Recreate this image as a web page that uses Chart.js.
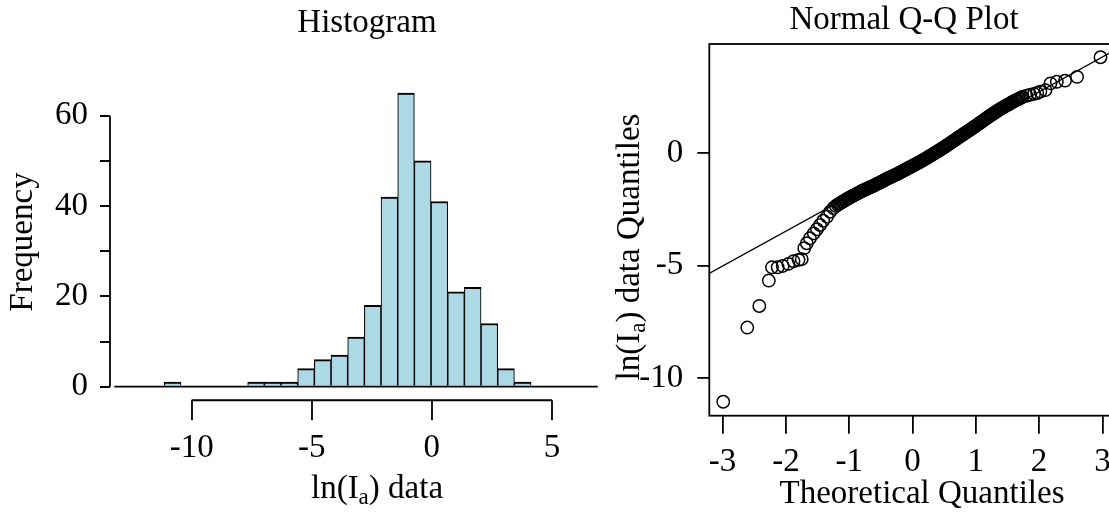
<!DOCTYPE html>
<html>
<head>
<meta charset="utf-8">
<script src="https://cdn.jsdelivr.net/npm/chart.js@4.4.1/dist/chart.umd.min.js"></script>
<style>
  html, body { margin: 0; padding: 0; background: #fff; overflow: hidden; }
  #wrap { position: relative; width: 1109px; height: 519px; overflow: hidden; }
  canvas { position: absolute; top: 0; }
  #hist { left: 0; }
  #qq { left: 580px; }
</style>
</head>
<body>
<div id="wrap">
  <canvas id="hist" width="610" height="519"></canvas>
  <canvas id="qq" width="560" height="519"></canvas>
</div>
<script>
// histogramme de ln(Ia)
const binStart = -13.22;
const binWidth = 0.694;
const binCounts = [0, 0, 0, 1, 0, 0, 0, 0, 1, 1,
                   1, 4, 6, 7, 11, 18, 42, 65, 50, 41,
                   21, 22, 14, 4, 1, 0, 0, 0, 0];
const histXTicks = [-10, -5, 0, 5];
const histYTicks = [0, 10, 20, 30, 40, 50, 60];
const histYLabels = [0, 20, 40, 60];

// Q-Q normal : queue basse, bande dense, queue haute
const qqTheory = [
  -2.99, -2.61, -2.42, -2.27, -2.22, -2.13, -2.05, -1.96, -1.88, -1.80,
  -1.75, -1.71, -1.67, -1.62, -1.56, -1.51, -1.46, -1.41, -1.35, -1.30,
  -1.25, -1.21,
  -1.18, -1.16, -1.14, -1.12, -1.10, -1.08, -1.06, -1.04, -1.02, -1.00,
  -0.98, -0.96, -0.94, -0.92, -0.90, -0.88, -0.86, -0.84, -0.82, -0.80,
  -0.78, -0.76, -0.74, -0.72, -0.70, -0.68, -0.66, -0.64, -0.62, -0.60,
  -0.58, -0.56, -0.54, -0.52, -0.50, -0.48, -0.46, -0.44, -0.42, -0.40,
  -0.38, -0.36, -0.34, -0.32, -0.30, -0.28, -0.26, -0.24, -0.22, -0.20,
  -0.18, -0.16, -0.14, -0.12, -0.10, -0.08, -0.06, -0.04, -0.02, 0.00,
  0.02, 0.04, 0.06, 0.08, 0.10, 0.12, 0.14, 0.16, 0.18, 0.20,
  0.22, 0.24, 0.26, 0.28, 0.30, 0.32, 0.34, 0.36, 0.38, 0.40,
  0.42, 0.44, 0.46, 0.48, 0.50, 0.52, 0.54, 0.56, 0.58, 0.60,
  0.62, 0.64, 0.66, 0.68, 0.70, 0.72, 0.74, 0.76, 0.78, 0.80,
  0.82, 0.84, 0.86, 0.88, 0.90, 0.92, 0.94, 0.96, 0.98, 1.00,
  1.02, 1.04, 1.06, 1.08, 1.10, 1.12, 1.14, 1.16, 1.18, 1.20,
  1.22, 1.24, 1.26, 1.28, 1.30, 1.32, 1.34, 1.36, 1.38, 1.40,
  1.42, 1.44, 1.46, 1.48, 1.50, 1.52, 1.54, 1.56, 1.58, 1.60,
  1.62, 1.64, 1.66, 1.68, 1.70, 1.72, 1.74,
  1.80, 1.86, 1.92, 1.97, 2.02, 2.10, 2.18, 2.28, 2.41, 2.60,
  2.97
];
const qqSample = [
  -11.05, -7.75, -6.79, -5.66, -5.07, -5.07, -5.01, -4.92, -4.80, -4.74,
  -4.71, -4.22, -4.00, -3.78, -3.56, -3.38, -3.19, -3.00, -2.82, -2.60,
  -2.44, -2.34,
  -2.29, -2.25, -2.22, -2.18, -2.15, -2.12, -2.08, -2.05, -2.01, -1.98,
  -1.95, -1.92, -1.89, -1.86, -1.83, -1.80, -1.77, -1.74, -1.71, -1.68,
  -1.65, -1.63, -1.60, -1.58, -1.55, -1.52, -1.50, -1.47, -1.45, -1.42,
  -1.39, -1.36, -1.34, -1.31, -1.28, -1.25, -1.22, -1.19, -1.16, -1.13,
  -1.10, -1.08, -1.05, -1.03, -1.00, -0.97, -0.94, -0.92, -0.89, -0.86,
  -0.83, -0.80, -0.77, -0.74, -0.71, -0.68, -0.65, -0.62, -0.59, -0.56,
  -0.53, -0.50, -0.47, -0.44, -0.41, -0.38, -0.35, -0.31, -0.28, -0.25,
  -0.22, -0.18, -0.15, -0.11, -0.08, -0.05, -0.01, 0.02, 0.06, 0.09,
  0.13, 0.16, 0.20, 0.23, 0.27, 0.31, 0.35, 0.38, 0.42, 0.46,
  0.50, 0.54, 0.57, 0.61, 0.65, 0.69, 0.73, 0.76, 0.80, 0.84,
  0.88, 0.92, 0.95, 0.99, 1.03, 1.07, 1.11, 1.14, 1.18, 1.22,
  1.26, 1.30, 1.34, 1.38, 1.42, 1.46, 1.50, 1.54, 1.58, 1.62,
  1.66, 1.70, 1.73, 1.77, 1.81, 1.85, 1.88, 1.92, 1.95, 1.99,
  2.02, 2.05, 2.09, 2.12, 2.15, 2.18, 2.21, 2.25, 2.28, 2.31,
  2.34, 2.37, 2.39, 2.42, 2.45, 2.48, 2.51,
  2.56, 2.60, 2.64, 2.68, 2.74, 2.81, 3.11, 3.18, 3.23, 3.40,
  4.27
];
// droite de Henry (qqline)
const qqLineX = [-3.3, 3.3];
const qqLineY = [-5.48, 4.75];
const qqXTicks = [-3, -2, -1, 0, 1, 2, 3];
const qqYTicks = [-10, -5, 0];

const FONT = '"Liberation Serif", "Times New Roman", serif';
const FS = 33;
const LW = 1.8;

// ecrit un texte avec indice eventuel, centre sur (0,0)
function drawRich(ctx, parts) {
  const big = FS + 'px ' + FONT;
  const small = Math.round(FS * 0.7) + 'px ' + FONT;
  let w = 0;
  parts.forEach(p => { ctx.font = p.sub ? small : big; w += ctx.measureText(p.t).width; });
  let x = -w / 2;
  ctx.fillStyle = '#000';
  ctx.textBaseline = 'middle';
  ctx.textAlign = 'left';
  parts.forEach(p => {
    ctx.font = p.sub ? small : big;
    ctx.fillText(p.t, x, p.sub ? FS * 0.28 : 0);
    x += ctx.measureText(p.t).width;
  });
}

function textPlugin(items) {
  return {
    id: 'rText',
    afterDraw(chart) {
      const ctx = chart.ctx;
      items.forEach(it => {
        ctx.save();
        ctx.translate(it.x, it.y);
        if (it.rot) ctx.rotate(it.rot);
        drawRich(ctx, it.parts);
        ctx.restore();
      });
    }
  };
}

// axes facon R : trait entre le premier et le dernier tick + graduations
const histAxes = {
  id: 'histAxes',
  afterDraw(chart) {
    const ctx = chart.ctx, a = chart.chartArea;
    const xs = chart.scales.x, ys = chart.scales.y;
    ctx.save();
    ctx.strokeStyle = '#000';
    ctx.lineWidth = LW;
    ctx.beginPath();
    ctx.moveTo(a.left, ys.getPixelForValue(histYTicks[0]));
    ctx.lineTo(a.left, ys.getPixelForValue(histYTicks[histYTicks.length - 1]));
    histYTicks.forEach(v => {
      const y = Math.round(ys.getPixelForValue(v));
      ctx.moveTo(a.left, y);
      ctx.lineTo(a.left - 10, y);
    });
    ctx.moveTo(xs.getPixelForValue(histXTicks[0]), a.bottom);
    ctx.lineTo(xs.getPixelForValue(histXTicks[histXTicks.length - 1]), a.bottom);
    histXTicks.forEach(v => {
      const x = Math.round(xs.getPixelForValue(v));
      ctx.moveTo(x, a.bottom);
      ctx.lineTo(x, a.bottom + 20);
    });
    ctx.stroke();
    ctx.restore();
  }
};

const boxPlugin = {
  id: 'box',
  afterDraw(chart) {
    const ctx = chart.ctx, a = chart.chartArea;
    ctx.save();
    ctx.strokeStyle = '#000';
    ctx.lineWidth = LW;
    ctx.strokeRect(a.left, a.top, a.right - a.left, a.bottom - a.top);
    ctx.restore();
  }
};

function tickAxis(ticks, len, pad, color, labelFn) {
  return {
    grid: { drawOnChartArea: false, drawTicks: true, tickLength: len, color: color,
            lineWidth: LW, offset: false },
    border: { display: false },
    afterBuildTicks: (axis) => { axis.ticks = ticks.map(v => ({ value: v })); },
    ticks: {
      autoSkip: false, maxRotation: 0, padding: pad, color: '#000',
      font: { family: FONT, size: FS },
      callback: labelFn || ((v) => String(v))
    }
  };
}

// ---- histogramme
const binCenters = binCounts.map((c, i) => binStart + binWidth * (i + 0.5));
const binEnd = binStart + binWidth * binCounts.length;

const histX = tickAxis(histXTicks, 20, 8, 'rgba(0,0,0,0)');
Object.assign(histX, { type: 'linear', min: -13.4, max: 7.0, offset: false,
  afterFit: (s) => { s.height = 118.75; } });
const histY = tickAxis(histYTicks, 10, 12, 'rgba(0,0,0,0)',
  (v) => histYLabels.includes(v) ? String(v) : '');
Object.assign(histY, { type: 'linear', min: -3, max: 66,
  afterFit: (s) => { s.width = 110; } });

new Chart(document.getElementById('hist'), {
  type: 'bar',
  data: {
    datasets: [
      {
        type: 'line',
        data: [{ x: binStart, y: 0 }, { x: binEnd, y: 0 }],
        borderColor: '#000', borderWidth: LW, pointRadius: 0, order: 0
      },
      {
        data: binCenters.map((c, i) => ({ x: c, y: binCounts[i] })),
        backgroundColor: '#ADD8E6',
        borderColor: '#000',
        borderWidth: { top: 2, left: 1.1, right: 1.1, bottom: 0 },
        borderSkipped: false,
        barPercentage: 1, categoryPercentage: 1, order: 1
      }
    ]
  },
  options: {
    responsive: false, animation: false, devicePixelRatio: 1,
    layout: { padding: { top: 88.6, right: 10, bottom: 0, left: 0 } },
    plugins: { legend: { display: false }, tooltip: { enabled: false }, title: { display: false } },
    scales: { x: histX, y: histY }
  },
  plugins: [histAxes, textPlugin([
    { x: 367, y: 23, parts: [{ t: 'Histogram' }] },
    { x: 23, y: 242, rot: -Math.PI / 2, parts: [{ t: 'Frequency' }] },
    { x: 377, y: 489, parts: [{ t: 'ln(I' }, { t: 'a', sub: true }, { t: ') data' }] }
  ])]
});

// ---- Q-Q plot
const qqX = tickAxis(qqXTicks, 18, 9, '#000');
Object.assign(qqX, { type: 'linear', min: -3.21, max: 3.21,
  afterFit: (s) => { s.height = 103.3; } });
const qqY = tickAxis(qqYTicks, 12, 14, '#000');
Object.assign(qqY, { type: 'linear', min: -11.67, max: 4.86,
  afterFit: (s) => { s.width = 129.3; } });

new Chart(document.getElementById('qq'), {
  type: 'scatter',
  data: {
    datasets: [
      {
        data: qqTheory.map((q, i) => ({ x: q, y: qqSample[i] })),
        pointRadius: 6.2, pointBorderWidth: 1.5,
        pointBackgroundColor: 'rgba(0,0,0,0)', pointBorderColor: '#000',
        pointHoverRadius: 6.2
      },
      {
        type: 'line',
        data: qqLineX.map((q, i) => ({ x: q, y: qqLineY[i] })),
        borderColor: '#000', borderWidth: 1.3, pointRadius: 0, showLine: true
      }
    ]
  },
  options: {
    responsive: false, animation: false, devicePixelRatio: 1,
    layout: { padding: { top: 44, right: 24.3, bottom: 0, left: 0 } },
    plugins: { legend: { display: false }, tooltip: { enabled: false }, title: { display: false } },
    scales: { x: qqX, y: qqY }
  },
  plugins: [boxPlugin, textPlugin([
    { x: 324, y: 20, parts: [{ t: 'Normal Q-Q Plot' }] },
    { x: 50, y: 247, rot: -Math.PI / 2, parts: [{ t: 'ln(I' }, { t: 'a', sub: true }, { t: ') data Quantiles' }] },
    { x: 342, y: 494, parts: [{ t: 'Theoretical Quantiles' }] }
  ])]
});
</script>
</body>
</html>
